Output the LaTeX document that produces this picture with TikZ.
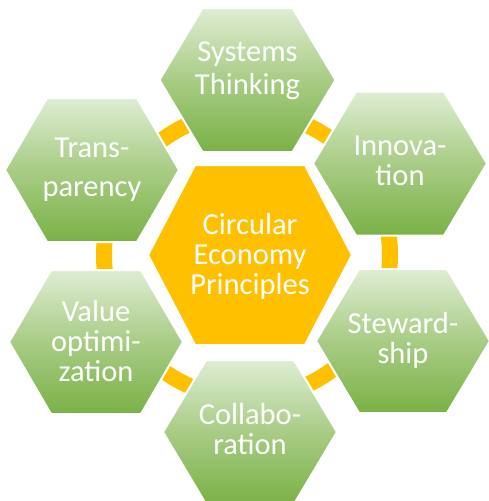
\documentclass[tikz,border=0pt]{standalone}
\usepackage{fontspec}
\setmainfont{Carlito}
\usepackage{xcolor}
\usetikzlibrary{positioning}
\definecolor{ringorange}{RGB}{255,192,0}
\definecolor{greentop}{RGB}{223,237,211}
\definecolor{greenmid}{RGB}{168,204,133}
\definecolor{greenbot}{RGB}{122,177,70}
\tikzstyle{ring} = [draw=ringorange, line width=16pt]
\tikzstyle{greenhex} = [draw=white, line width=2pt, top color=greentop, bottom color=greenbot, middle color=greenmid]
\tikzstyle{corehex} = [draw=white, line width=2pt, fill=ringorange]
\tikzstyle{hextext} = [text=white, align=center, font=\fontsize{30.5}{30}\selectfont, execute at begin node=\strut, execute at end node=\strut]
\newcommand{\hexpath}[3]{(-#1,0) -- (-#2,#3) -- (#2,#3) -- (#1,0) -- (#2,-#3) -- (-#2,-#3) -- cycle}

\begin{document}
\begin{tikzpicture}[x=1pt, y=-1pt]
\useasboundingbox (0,0) rectangle (488,501);

% Ring behind the hexagons
\draw[ring] (247,255) circle (143);

% Centre
\path[corehex, shift={(250,255)}] \hexpath{102}{55}{90};
\node (core) [hextext] at (250,258) {Circular\\Economy\\Principles};

% Outer hexagons
\path[greenhex, shift={(247.5,80)}] \hexpath{88}{45}{72};
\node (systems) [hextext, font=\fontsize{30.5}{33}\selectfont] at (247.5,73) {Systems\\Thinking};

\path[greenhex, shift={(400,163.5)}] \hexpath{87}{44}{72};
\node (innovation) [hextext] at (400,165) {Innova-\\tion};

\path[greenhex, shift={(403,341)}] \hexpath{87}{44}{72};
\node (stewardship) [hextext] at (403,342) {Steward-\\ship};

\path[greenhex, shift={(250,432)}] \hexpath{87}{44}{72};
\node (collaboration) [hextext] at (250,433) {Collabo-\\ration};

\path[greenhex, shift={(96,342)}] \hexpath{87}{45}{72};
\node (value) [hextext] at (96,345) {Value\\optimi-\\zation};

\path[greenhex, shift={(92,170)}] \hexpath{87}{45}{72};
\node (transparency) [hextext, font=\fontsize{30.5}{39}\selectfont] at (92,173) {Trans-\\parency};

\end{tikzpicture}
\end{document}
